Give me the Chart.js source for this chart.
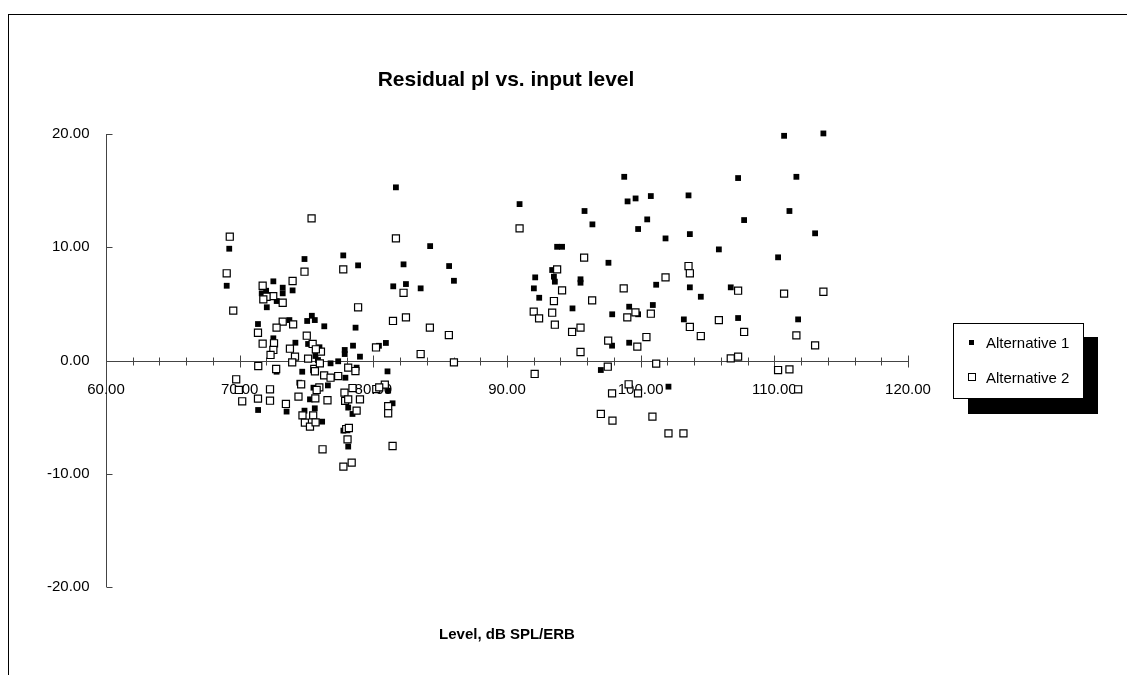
<!DOCTYPE html>
<html>
<head>
<meta charset="utf-8">
<script src="https://cdn.jsdelivr.net/npm/chart.js@4"></script>
<style>
  html, body { margin: 0; padding: 0; background: #fff; }
  #wrap { width: 1127px; height: 675px; }
</style>
</head>
<body>
<div id="wrap"><canvas id="grafica" width="1127" height="675"></canvas></div>
<script>
const titulo = "Residual pl vs. input level";
const tituloX = "Level, dB SPL/ERB";
const nombres = ["Alternative 1", "Alternative 2"];

const xTicks = [60, 70, 80, 90, 100, 110, 120];
const xMinor = [62, 64, 66, 68, 72, 74, 76, 78, 82, 84, 86, 88, 92, 94, 96, 98, 102, 104, 106, 108, 112, 114, 116, 118];
const yTicks = [20, 10, 0, -10, -20];

// Alternative 1 (filled)
const alt1X = [69.22, 69.03, 74.85, 77.75, 78.86, 72.52, 73.22, 73.96, 73.22, 71.98, 71.65, 72.77, 72.03, 71.37, 73.72,
  75.40, 75.05, 75.62, 76.33, 78.67, 72.52, 74.17, 75.12, 75.97, 78.48, 77.86, 77.86, 79.00, 77.37, 76.80,
  75.67, 75.85, 72.76, 74.68, 78.75, 77.91, 74.46, 75.52, 76.60, 75.26, 78.12, 78.44, 71.38, 73.51, 74.85,
  75.62, 76.17, 77.76, 78.12, 81.06, 80.42, 80.94, 81.69, 84.25, 82.26, 85.67, 86.03, 81.49, 82.44, 83.54,
  81.11, 81.44, 90.94, 98.77, 99.02, 99.62, 100.76, 103.58, 95.80, 96.39, 100.49, 99.81, 101.86, 103.68, 93.75,
  94.12, 97.59, 93.38, 92.11, 93.51, 93.58, 95.50, 95.50, 92.01, 92.41, 101.16, 103.68, 104.50, 94.90, 99.14,
  97.87, 99.81, 100.91, 103.23, 97.86, 99.14, 97.02, 102.08, 110.73, 113.67, 107.29, 111.65, 111.13, 107.74, 113.05,
  105.85, 110.28, 106.74, 107.29, 111.78];
const alt1Y = [9.87, 6.60, 8.96, 9.28, 8.40, 6.99, 6.43, 6.19, 5.93, 6.16, 5.93, 5.25, 4.70, 3.22, 3.57,
  3.95, 3.49, 3.57, 3.02, 2.90, 1.96, 1.57, 1.46, 1.17, 1.31, 0.93, 0.57, 0.34, -0.07, -0.25,
  0.40, 0.04, -0.99, -0.99, -0.63, -1.52, -1.96, -2.40, -2.20, -3.43, -4.16, -4.72, -4.37, -4.51, -4.43,
  -4.22, -5.40, -6.19, -7.60, -0.96, 1.30, 1.55, 15.29, 10.10, 8.49, 8.34, 7.04, 6.55, 6.75, 6.37,
  -2.66, -3.78, 13.81, 16.22, 14.05, 14.31, 14.52, 14.58, 13.20, 12.02, 12.46, 11.61, 10.78, 11.16, 10.04,
  10.04, 8.63, 7.99, 7.34, 7.40, 6.96, 7.17, 6.87, 6.37, 5.54, 6.69, 6.46, 5.63, 4.60, 4.75,
  4.08, 4.08, 4.90, 3.63, 1.31, 1.57, -0.84, -2.31, 19.84, 20.05, 16.11, 16.22, 13.20, 12.40, 11.23,
  9.81, 9.11, 6.46, 3.75, 3.63];

// Alternative 2 (open)
const alt2X = [75.38, 69.26, 69.03, 74.85, 77.75, 73.96, 71.72, 72.51, 72.01, 71.77, 73.22, 69.52, 78.86, 73.22, 72.76,
  74.00, 71.37, 75.02, 71.72, 72.57, 72.52, 72.31, 73.76, 75.46, 76.08, 75.70, 74.14, 75.12, 73.93, 71.39,
  72.73, 75.58, 76.00, 76.32, 76.80, 77.37, 78.12, 78.66, 69.74, 69.94, 70.19, 71.37, 72.27, 72.27, 73.46,
  74.60, 74.40, 75.96, 75.66, 76.57, 74.70, 75.50, 74.88, 75.26, 75.68, 77.84, 77.89, 78.12, 78.44, 79.00,
  78.75, 77.97, 78.07, 76.20, 80.86, 80.22, 81.11, 81.11, 80.20, 81.69, 82.26, 81.47, 82.44, 84.23, 85.65,
  83.54, 86.03, 80.44, 81.44, 77.76, 78.38, 90.94, 95.77, 93.75, 103.58, 103.68, 101.86, 98.73, 94.12, 96.37,
  93.51, 92.00, 92.40, 93.38, 93.58, 99.61, 99.00, 100.76, 94.87, 95.50, 103.68, 104.50, 97.57, 100.43, 99.75,
  95.50, 97.54, 101.16, 92.07, 97.86, 99.10, 99.80, 97.02, 97.89, 100.88, 102.08, 103.20, 107.29, 110.73, 113.67,
  105.85, 107.74, 111.65, 113.05, 106.74, 107.29, 110.28, 111.13, 111.78, 75.63, 75.76, 78.17];
const alt2Y = [12.55, 10.93, 7.70, 7.84, 8.05, 7.02, 6.60, 5.69, 5.63, 5.40, 5.10, 4.40, 4.70, 3.43, 2.90,
  3.19, 2.45, 2.19, 1.48, 1.52, 0.93, 0.49, 1.04, 1.46, 0.78, 0.99, 0.34, 0.16, -0.16, -0.49,
  -0.75, -0.75, -0.25, -1.31, -1.52, -1.37, -0.63, -0.93, -1.66, -2.60, -3.60, -3.37, -2.54, -3.55, -3.84,
  -2.10, -3.19, -2.37, -3.34, -3.51, -4.84, -4.84, -5.49, -5.84, -5.46, -2.84, -3.57, -3.43, -2.43, -3.43,
  -4.43, -6.05, -6.96, -7.84, -2.13, -2.52, -4.03, -4.66, 1.15, 10.78, 5.98, 3.49, 3.81, 2.90, 2.25,
  0.57, -0.16, -2.37, -7.55, -9.37, -9.02, 11.67, 9.08, 8.05, 8.34, 7.70, 7.34, 6.37, 6.19, 5.31,
  5.25, 4.31, 3.72, 4.22, 3.16, 4.25, 3.81, 4.13, 2.52, 2.90, 2.96, 2.16, 1.75, 2.07, 1.22,
  0.75, -0.55, -0.28, -1.19, -2.90, -2.10, -2.90, -4.72, -5.31, -4.96, -6.43, -6.43, 6.16, 5.90, 6.07,
  3.57, 2.52, 2.22, 1.34, 0.19, 0.34, -0.84, -0.78, -2.54, -0.95, -2.60, -5.96];

const fuente = '"Liberation Sans", Arial, sans-serif';

const puntos = (xs, ys) => xs.map((x, i) => ({ x: x, y: ys[i] }));

// ejes estilo Excel, titulo, leyenda y marco
const ejesExcel = {
  id: "ejesExcel",
  beforeDraw(chart) {
    const ctx = chart.ctx;
    ctx.save();
    ctx.fillStyle = "#fff";
    ctx.fillRect(0, 0, chart.width, chart.height);
    ctx.strokeStyle = "#000";
    ctx.lineWidth = 1;
    ctx.strokeRect(8.5, 14.5, 1300, 1000);
    ctx.restore();
  },
  beforeDatasetsDraw(chart) {
    const ctx = chart.ctx;
    const sx = chart.scales.x, sy = chart.scales.y;
    const x0 = Math.round(sx.getPixelForValue(60)) + 0.5;
    const y0 = Math.round(sy.getPixelForValue(0)) + 0.5;
    ctx.save();
    ctx.strokeStyle = "#444";
    ctx.lineWidth = 1;
    ctx.beginPath();
    // eje y
    ctx.moveTo(x0, sy.getPixelForValue(20));
    ctx.lineTo(x0, sy.getPixelForValue(-20));
    yTicks.forEach(v => {
      const py = Math.round(sy.getPixelForValue(v)) + 0.5;
      ctx.moveTo(x0, py);
      ctx.lineTo(x0 + 6, py);
    });
    // eje x
    ctx.moveTo(sx.getPixelForValue(60), y0);
    ctx.lineTo(sx.getPixelForValue(120), y0);
    xTicks.forEach(v => {
      const px = Math.round(sx.getPixelForValue(v)) + 0.5;
      ctx.moveTo(px, y0 - 6);
      ctx.lineTo(px, y0 + 6);
    });
    xMinor.forEach(v => {
      const px = Math.round(sx.getPixelForValue(v)) + 0.5;
      ctx.moveTo(px, y0 - 4);
      ctx.lineTo(px, y0 + 4);
    });
    ctx.stroke();

    ctx.fillStyle = "#000";
    ctx.font = "15px " + fuente;
    ctx.textAlign = "right";
    ctx.textBaseline = "middle";
    yTicks.forEach(v => ctx.fillText(v.toFixed(2), x0 - 17, sy.getPixelForValue(v)));
    ctx.textAlign = "center";
    xTicks.forEach(v => ctx.fillText(v.toFixed(2), sx.getPixelForValue(v), y0 + 28));
    ctx.restore();
  },
  afterDraw(chart) {
    const ctx = chart.ctx;
    ctx.save();
    ctx.fillStyle = "#000";
    ctx.textAlign = "center";
    ctx.textBaseline = "middle";
    ctx.font = "bold 21px " + fuente;
    ctx.fillText(titulo, 506, 80);
    ctx.font = "bold 15px " + fuente;
    ctx.fillText(tituloX, 507, 635);

    // leyenda con sombra
    ctx.fillStyle = "#000";
    ctx.fillRect(968, 337, 130, 77);
    ctx.fillStyle = "#fff";
    ctx.fillRect(953, 323, 130, 75);
    ctx.strokeStyle = "#000";
    ctx.lineWidth = 1;
    ctx.strokeRect(953.5, 323.5, 130, 75);
    ctx.fillStyle = "#000";
    ctx.fillRect(969, 340, 5, 5);
    ctx.fillStyle = "#fff";
    ctx.fillRect(968.5, 373.5, 7, 7);
    ctx.strokeRect(968.5, 373.5, 7, 7);
    ctx.fillStyle = "#000";
    ctx.textAlign = "left";
    ctx.font = "15px " + fuente;
    ctx.fillText(nombres[0], 986, 344);
    ctx.fillText(nombres[1], 986, 379);
    ctx.restore();
  }
};

new Chart(document.getElementById("grafica"), {
  type: "scatter",
  data: {
    datasets: [
      {
        label: nombres[0],
        data: puntos(alt1X, alt1Y),
        pointStyle: "rect",
        pointRadius: 4.1,
        backgroundColor: "#000",
        borderColor: "#000",
        borderWidth: 0,
        clip: false,
        order: 1
      },
      {
        label: nombres[1],
        data: puntos(alt2X, alt2Y),
        pointStyle: "rect",
        pointRadius: 5,
        backgroundColor: "#fff",
        borderColor: "#000",
        borderWidth: 1.2,
        clip: false,
        order: 0
      }
    ]
  },
  options: {
    responsive: false,
    animation: false,
    layout: { padding: { left: 106, right: 219, top: 134, bottom: 88 } },
    scales: {
      x: { type: "linear", min: 60, max: 120, display: false },
      y: { type: "linear", min: -20, max: 20, display: false }
    },
    plugins: {
      legend: { display: false },
      title: { display: false },
      tooltip: { enabled: false }
    }
  },
  plugins: [ejesExcel]
});
</script>
</body>
</html>
